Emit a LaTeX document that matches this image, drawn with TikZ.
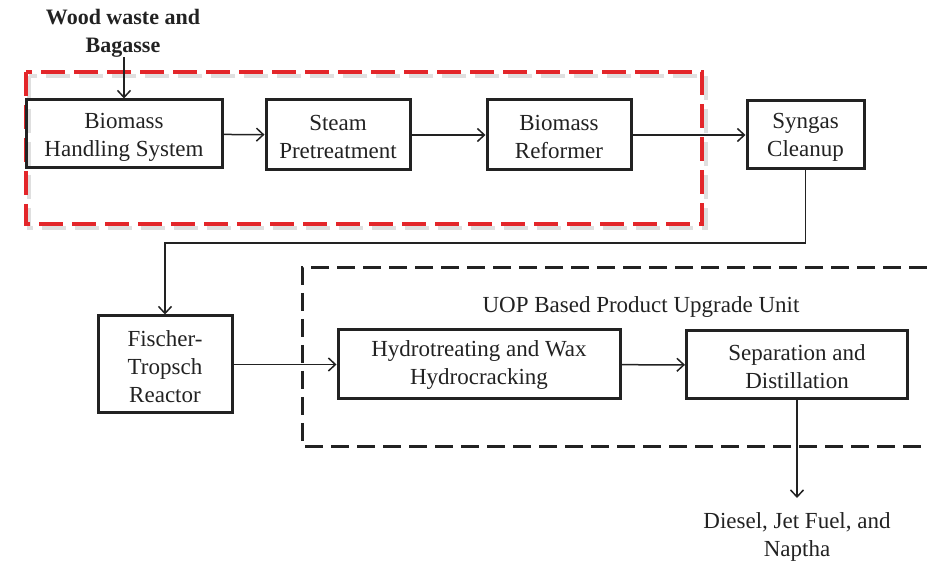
\documentclass[tikz,border=0pt]{standalone}
\usepackage{fontspec}
\setmainfont{Liberation Serif}
\usetikzlibrary{arrows.meta}
\definecolor{ink}{HTML}{222222}
\definecolor{redd}{HTML}{E3262A}
\begin{document}
\begin{tikzpicture}[x=1pt,y=-1pt,
  box/.style={draw=ink, line width=3pt, inner sep=0pt},
  lbl/.style={align=center, inner sep=0pt, text=ink,
    font=\fontsize{23}{28}\selectfont},
  conn/.style={draw=ink, line width=1.5pt,
    -{Straight Barb[length=7pt,width=13pt,line width=1.5pt]}},
  redbox/.style={draw=redd, line width=3.5pt, dash pattern=on 24pt off 9pt},
  shadowbox/.style={draw=black!25, line width=4pt, dash pattern=on 24pt off 9pt, opacity=0.5},
  blackbox/.style={draw=ink, line width=3pt, dash pattern=on 18pt off 8pt},
]
\useasboundingbox (0,0) rectangle (927,561);

% red dashed group
\draw[shadowbox] (29,76) rectangle (706,228);
\draw[redbox] (26,72) rectangle (702,224);

% black dashed group (open on the right)
\draw[blackbox] (927,268) -- (302,268) -- (302,446) -- (927,446);

% boxes
\node[box, minimum width=196pt, minimum height=68pt] (bhs) at (124,134) {};
\node[box, minimum width=144pt, minimum height=70pt] (stp) at (338,135) {};
\node[box, minimum width=144pt, minimum height=70pt] (ref) at (559,135) {};
\node[box, minimum width=117pt, minimum height=68pt] (syn) at (805.5,135) {};
\node[box, minimum width=134pt, minimum height=97pt] (fis) at (165,364.5) {};
\node[box, minimum width=282pt, minimum height=69pt] (hyd) at (479,364.5) {};
\node[box, minimum width=221pt, minimum height=68pt] (sep) at (797,365) {};

% box texts
\node[lbl] (bhst) at ([yshift=-3pt]bhs.center) {Biomass\\Handling System};
\node[lbl] (stpt) at ([yshift=-2pt]stp.center) {Steam\\Pretreatment};
\node[lbl] (reft) at ([yshift=-2pt]ref.center) {Biomass\\Reformer};
\node[lbl] (synt) at ([yshift=-2pt]syn.center) {Syngas\\Cleanup};
\node[lbl] (fist) at ([yshift=-2pt]fis.center) {Fischer-\\Tropsch\\Reactor};
\node[lbl] (hydt) at ([yshift=-1pt]hyd.center) {Hydrotreating and Wax\\Hydrocracking};
\node[lbl] (sept) at ([yshift=-2pt]sep.center) {Separation and\\Distillation};

% free texts
\node[lbl, font=\bfseries\fontsize{22}{28}\selectfont] (wood) at (123,33) {Wood waste and\\Bagasse};
\node[lbl] (uop) at (641,307) {UOP Based Product Upgrade Unit};
\node[lbl, anchor=north] (out) at (797,512) {Diesel, Jet Fuel, and\\Naptha};
\coordinate (outtip) at (797,498);

% connectors
\draw[conn] (wood.south -| bhs.north) -- (bhs.north);
\draw[conn] (bhs) -- (stp);
\draw[conn] (stp) -- (ref);
\draw[conn] (ref.east) -- (syn.west);
\coordinate (turn) at (805.5,243);
\draw[conn] (syn.south) -- (turn) -| (fis.north);
\draw[conn] (fis.east |- hyd.west) -- (hyd.west);
\draw[conn] (hyd) -- (sep);
\draw[conn] (sep.south) -- (outtip);
\end{tikzpicture}
\end{document}
